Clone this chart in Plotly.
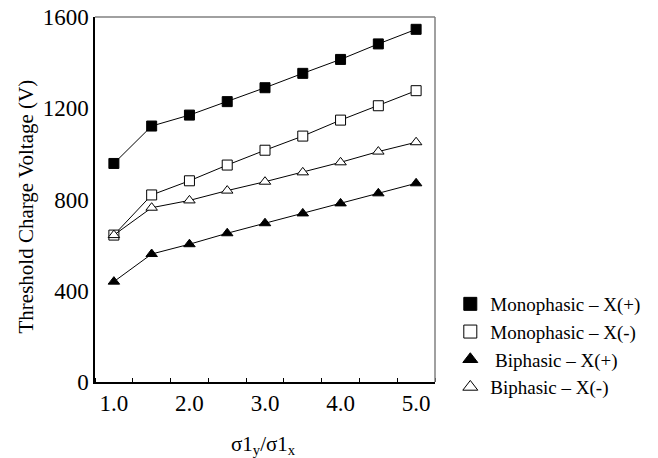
import plotly.graph_objects as go

ratio = [1.0, 1.5, 2.0, 2.5, 3.0, 3.5, 4.0, 4.5, 5.0]
mono_pos = [958, 1122, 1170, 1229, 1290, 1353, 1414, 1482, 1546]
mono_neg = [644, 820, 882, 951, 1016, 1078, 1148, 1211, 1277]
bi_pos = [440, 561, 604, 652, 696, 739, 783, 827, 871]
bi_neg = [644, 764, 796, 839, 878, 919, 963, 1010, 1051]

series = [
    ("Monophasic – X(+)", mono_pos, "square", "black"),
    ("Monophasic – X(-)", mono_neg, "square", "white"),
    (" Biphasic – X(+)", bi_pos, "triangle-up", "black"),
    ("Biphasic – X(-)", bi_neg, "triangle-up", "white"),
]

FONT = "Liberation Serif"

fig = go.Figure()
for name, vals, sym, fill in series:
    fig.add_trace(go.Scatter(
        x=ratio, y=vals, mode="lines+markers", showlegend=False,
        line=dict(color="black", width=1),
        marker=dict(symbol=sym, size=10, color=fill, line=dict(color="black", width=1)),
    ))
for i, (name, vals, sym, fill) in enumerate(series):
    fig.add_trace(go.Scatter(
        x=[None], y=[None], mode="markers", name=name,
        marker=dict(symbol=sym, size=13, color=fill, line=dict(color="black", width=1)),
    ))

fig.update_layout(
    width=658, height=458,
    margin=dict(l=95, r=206, t=17, b=76),
    plot_bgcolor="white", paper_bgcolor="white",
    font=dict(family=FONT, size=23, color="black"),
    legend=dict(x=1.045, y=0.1, xanchor="left", yanchor="middle",
                font=dict(size=19), tracegroupgap=0, bgcolor="rgba(0,0,0,0)"),
    xaxis=dict(range=[0.75, 5.25], tickmode="linear", tick0=1, dtick=1,
               tickformat=".1f", ticks="", showgrid=False, zeroline=False,
               automargin=False,
               showline=True, linecolor="black", linewidth=1.5,
               minor=dict(ticks="inside", tick0=1.25, dtick=0.5, ticklen=4,
                          tickcolor="black", showgrid=False)),
    yaxis=dict(range=[0, 1600], tickmode="linear", tick0=0, dtick=400,
               ticks="", showgrid=False, zeroline=False, automargin=False,
               showline=True, linecolor="black", linewidth=1.5),
    annotations=[
        dict(text="Threshold Charge Voltage (V)", textangle=-90,
             xref="paper", yref="paper", x=-0.2017, y=0.482,
             xanchor="center", yanchor="middle", showarrow=False,
             font=dict(size=21)),
        dict(text="σ1<sub>y</sub>/σ1<sub>x</sub>",
             xref="paper", yref="paper", x=0.496, y=-0.132,
             xanchor="center", yanchor="top", showarrow=False,
             font=dict(size=21)),
    ],
    shapes=[
        dict(type="line", xref="paper", yref="paper", x0=0, x1=1, y0=1, y1=1,
             line=dict(color="#808080", width=1.5)),
        dict(type="line", xref="paper", yref="paper", x0=1, x1=1, y0=0, y1=1,
             line=dict(color="#808080", width=1.5)),
    ],
)

fig.write_html("out.html")
